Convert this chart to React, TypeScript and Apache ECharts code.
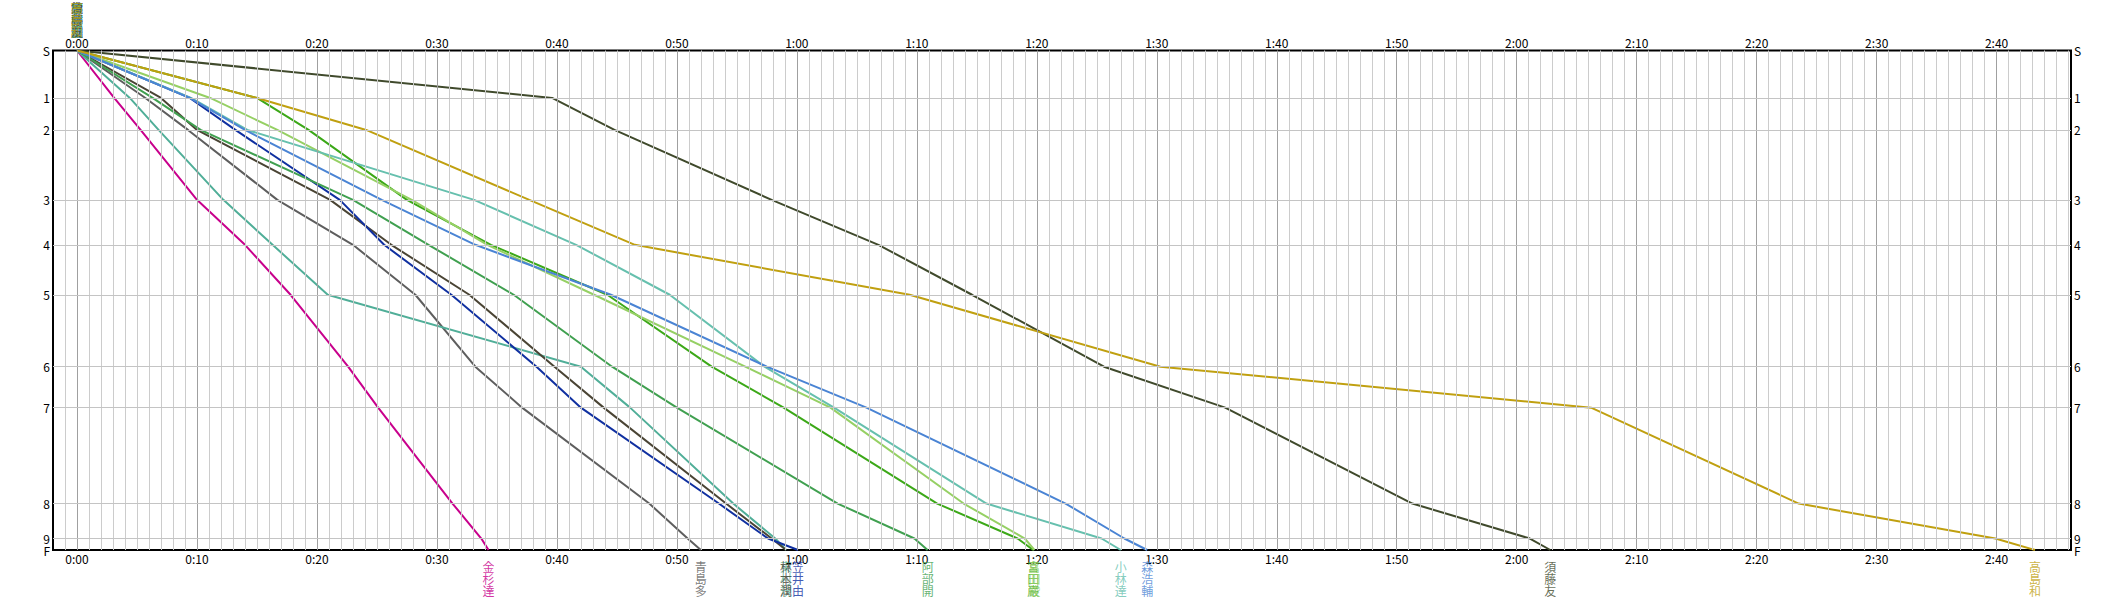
import React, { useEffect, useRef } from "react";
import * as echarts from "echarts";

const stations = ["S", "1", "2", "3", "4", "5", "6", "7", "8", "9", "F"];
const stationDist = [0, 0.95, 1.59, 2.99, 3.89, 4.89, 6.33, 7.15, 9.07, 9.77, 10];
const majorTicks = [0, 10, 20, 30, 40, 50, 60, 70, 80, 90, 100, 110, 120, 130, 140, 150, 160];

const runnerNames = ["金杉達", "青島多", "東村規", "林本潤", "笠井由", "阿部開", "宮田巌", "富田峻", "小林達", "森浩輔", "須藤友", "高島和"];
const runnerColors = ["#c8008c", "#5e5e5e", "#50ae98", "#4a4434", "#1030a0", "#40a050", "#3ca818", "#96d064", "#66c0ae", "#4a84d4", "#404a2c", "#c0a010"];

const timesKanasugi = [0, 3.1, 5.3, 10.0, 14.0, 17.8, 22.6, 25.1, 31.3, 33.7, 34.3];
const timesAoshima = [0, 5.7, 9.25, 16.7, 23.0, 28.2, 33.2, 37.1, 47.7, 50.9, 52.0];
const timesHigashimura = [0, 4.4, 6.8, 12.2, 16.3, 20.9, 42.0, 46.1, 54.7, 58.2, 59.1];
const timesHayashimoto = [0, 7.0, 10.0, 21.1, 26.2, 32.7, 39.8, 43.9, 54.1, 57.9, 59.1];
const timesKasai = [0, 9.4, 13.2, 21.9, 25.6, 31.2, 38.3, 42.0, 53.5, 57.6, 60.1];
const timesAbe = [0, 6.3, 10.3, 23.0, 29.3, 36.4, 44.6, 50.0, 63.4, 69.8, 70.9];
const timesMiyata = [0, 15.0, 19.3, 27.5, 34.5, 44.2, 52.9, 58.9, 71.7, 78.4, 79.7];
const timesTomita = [0, 11.1, 16.7, 27.9, 34.2, 43.1, 55.7, 62.8, 73.9, 79.0, 79.8];
const timesKobayashi = [0, 9.5, 14.2, 33.1, 41.6, 49.4, 57.3, 63.1, 75.8, 85.4, 87.0];
const timesMori = [0, 9.4, 14.0, 25.4, 33.2, 44.5, 57.5, 65.8, 82.4, 87.3, 89.2];
const timesSudo = [0, 39.6, 44.8, 57.9, 66.8, 74.6, 85.6, 95.7, 111.3, 121.1, 122.8];
const timesTakashima = [0, 15.0, 24.1, 37.7, 46.5, 69.4, 90.3, 126.2, 143.5, 159.9, 163.2];

const runnerTimes = [
  timesKanasugi, timesAoshima, timesHigashimura, timesHayashimoto, timesKasai, timesAbe,
  timesMiyata, timesTomita, timesKobayashi, timesMori, timesSudo, timesTakashima,
];

const FONT = "'Noto Sans CJK JP', 'Noto Sans', sans-serif";

function fmtTime(v: number) {
  const h = Math.floor(v / 60);
  const m = Math.round(v - h * 60);
  return h + ":" + (m < 10 ? "0" + m : "" + m);
}

function stationLabel(v: number) {
  for (let i = 0; i < stationDist.length; i++) {
    if (Math.abs(stationDist[i] - v) < 1e-6) return stations[i];
  }
  return "";
}

export default function App() {
  const ref = useRef<HTMLDivElement>(null);
  useEffect(() => {
    if (!ref.current) return;
    const chart = echarts.init(ref.current, undefined, { renderer: "svg" });

    const gridLines: any[] = [];
    for (let m = -1; m <= 166; m++) {
      const major = m % 10 === 0;
      gridLines.push({ xAxis: m, lineStyle: { color: major ? "#a0a0a0" : "#cccccc", width: 1, type: "solid" } });
    }
    for (let i = 1; i < stationDist.length - 1; i++) {
      gridLines.push({ yAxis: stationDist[i], lineStyle: { color: "#c4c4c4", width: 1, type: "solid" } });
    }

    const xLabel = {
      customValues: majorTicks, formatter: (v: number) => fmtTime(v), color: "#000", fontSize: 12, fontFamily: FONT,
      showMinLabel: true, showMaxLabel: true,
    };
    const innerStations = stationDist.slice(0, stationDist.length - 1);
    const lastStation = stationDist.slice(stationDist.length - 1);
    const yBase = {
      type: "value", inverse: true, min: 0, max: 10, offset: 0,
      axisLine: { show: false }, axisTick: { show: false }, splitLine: { show: false },
    };
    const yLabel = (vals: number[], extra: any) => ({
      customValues: vals, formatter: (v: number) => stationLabel(v), color: "#000", fontSize: 12, fontFamily: FONT, margin: 3,
      showMinLabel: true, showMaxLabel: true, ...extra,
    });

    const series: any[] = [
      {
        type: "line",
        data: [[-2, 0]],
        showSymbol: false,
        lineStyle: { opacity: 0 },
        z: 1,
        silent: true,
        markLine: { silent: true, symbol: ["none", "none"], label: { show: false }, data: gridLines, animation: false },
      },
    ];
    runnerTimes.forEach((t, i) => {
      series.push({
        type: "line",
        name: runnerNames[i],
        data: t.map((v, j) => [v, stationDist[j]]),
        showSymbol: false,
        lineStyle: { color: runnerColors[i], width: 2 },
        z: 3,
      });
    });
    runnerTimes.forEach((t, i) => {
      series.push({
        type: "scatter",
        data: [[t[t.length - 1], 10]],
        symbolSize: 0,
        z: 4,
        label: {
          show: true,
          position: "bottom",
          distance: 10,
          formatter: () => runnerNames[i].split("").join("\n"),
          color: runnerColors[i],
          fontSize: 12,
          lineHeight: 12.3,
          fontFamily: FONT,
        },
      });
      series.push({
        type: "scatter",
        data: [[t[0], 0]],
        symbolSize: 0,
        z: 4,
        label: {
          show: true,
          position: "top",
          distance: 13,
          formatter: () => runnerNames[i].split("").join("\n"),
          color: runnerColors[i],
          fontSize: 12,
          lineHeight: 12,
          fontFamily: FONT,
        },
      });
    });

    chart.setOption({
      animation: false,
      backgroundColor: "#fff",
      grid: { left: 53, top: 50.5, width: 2018, height: 499.5, show: true, borderColor: "#000", borderWidth: 2, backgroundColor: "#fff" },
      xAxis: [
        { type: "value", min: -2, max: 166.2, position: "bottom", axisLine: { show: false }, axisTick: { show: false }, splitLine: { show: false }, axisLabel: { ...xLabel, margin: 2 } },
        { type: "value", min: -2, max: 166.2, position: "top", axisLine: { show: false }, axisTick: { show: false }, splitLine: { show: false }, axisLabel: { ...xLabel, margin: 2 } },
      ],
      yAxis: [
        { ...yBase, position: "left", axisLabel: yLabel(innerStations, {}) },
        { ...yBase, position: "right", axisLabel: yLabel(innerStations, {}) },
        { ...yBase, position: "left", axisLabel: yLabel(lastStation, { padding: [2, 0, 0, 0] }) },
        { ...yBase, position: "right", axisLabel: yLabel(lastStation, { padding: [2, 0, 0, 0] }) },
      ],
      series,
    });
    return () => chart.dispose();
  }, []);
  return <div ref={ref} style={{ position: "absolute", left: 0, top: 0, width: 2123, height: 600 }} />;
}
